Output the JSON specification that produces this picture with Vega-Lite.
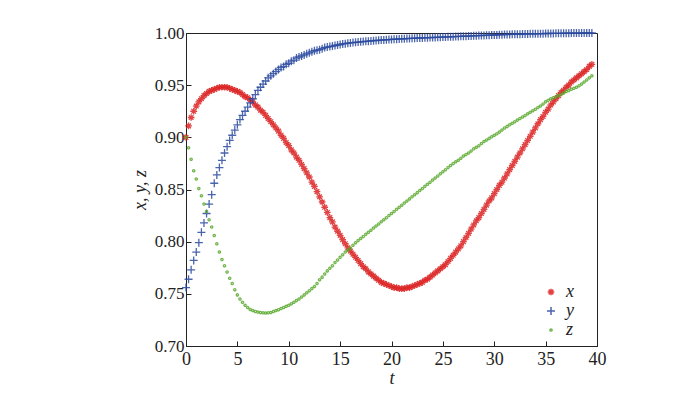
{
"$schema": "https://vega.github.io/schema/vega-lite/v6.json",
"width": 411, "height": 313,
"autosize": {"type": "none"},
"padding": {"left": 186, "top": 33, "right": 76, "bottom": 47},
"background": "white",
"config": {"view": {"stroke": "#222", "strokeWidth": 1}, "font": "Liberation Serif, serif"},
"data": {"values": [
{"s":"x","t":0,"v":0.900},{"s":"x","t":0.25,"v":0.911},{"s":"x","t":0.5,"v":0.919},{"s":"x","t":0.75,"v":0.925},{"s":"x","t":1,"v":0.930},{"s":"x","t":1.25,"v":0.934},{"s":"x","t":1.5,"v":0.937},{"s":"x","t":1.75,"v":0.940},{"s":"x","t":2,"v":0.942},{"s":"x","t":2.25,"v":0.944},{"s":"x","t":2.5,"v":0.945},{"s":"x","t":2.75,"v":0.946},{"s":"x","t":3,"v":0.947},{"s":"x","t":3.25,"v":0.948},{"s":"x","t":3.5,"v":0.948},{"s":"x","t":3.75,"v":0.948},{"s":"x","t":4,"v":0.948},{"s":"x","t":4.25,"v":0.947},{"s":"x","t":4.5,"v":0.946},{"s":"x","t":4.75,"v":0.945},{"s":"x","t":5,"v":0.944},{"s":"x","t":5.25,"v":0.943},{"s":"x","t":5.5,"v":0.941},{"s":"x","t":5.75,"v":0.939},{"s":"x","t":6,"v":0.938},{"s":"x","t":6.25,"v":0.936},{"s":"x","t":6.5,"v":0.934},{"s":"x","t":6.75,"v":0.931},{"s":"x","t":7,"v":0.929},{"s":"x","t":7.25,"v":0.926},{"s":"x","t":7.5,"v":0.924},{"s":"x","t":7.75,"v":0.921},{"s":"x","t":8,"v":0.918},{"s":"x","t":8.25,"v":0.915},{"s":"x","t":8.5,"v":0.912},{"s":"x","t":8.75,"v":0.909},{"s":"x","t":9,"v":0.906},{"s":"x","t":9.25,"v":0.902},{"s":"x","t":9.5,"v":0.899},{"s":"x","t":9.75,"v":0.895},{"s":"x","t":10,"v":0.892},{"s":"x","t":10.25,"v":0.888},{"s":"x","t":10.5,"v":0.885},{"s":"x","t":10.75,"v":0.881},{"s":"x","t":11,"v":0.878},{"s":"x","t":11.25,"v":0.874},{"s":"x","t":11.5,"v":0.870},{"s":"x","t":11.75,"v":0.866},{"s":"x","t":12,"v":0.862},{"s":"x","t":12.25,"v":0.857},{"s":"x","t":12.5,"v":0.853},{"s":"x","t":12.75,"v":0.848},{"s":"x","t":13,"v":0.843},{"s":"x","t":13.25,"v":0.838},{"s":"x","t":13.5,"v":0.833},{"s":"x","t":13.75,"v":0.828},{"s":"x","t":14,"v":0.823},{"s":"x","t":14.25,"v":0.819},{"s":"x","t":14.5,"v":0.814},{"s":"x","t":14.75,"v":0.810},{"s":"x","t":15,"v":0.806},{"s":"x","t":15.25,"v":0.802},{"s":"x","t":15.5,"v":0.798},{"s":"x","t":15.75,"v":0.794},{"s":"x","t":16,"v":0.791},{"s":"x","t":16.25,"v":0.788},{"s":"x","t":16.5,"v":0.785},{"s":"x","t":16.75,"v":0.782},{"s":"x","t":17,"v":0.779},{"s":"x","t":17.25,"v":0.776},{"s":"x","t":17.5,"v":0.774},{"s":"x","t":17.75,"v":0.771},{"s":"x","t":18,"v":0.769},{"s":"x","t":18.25,"v":0.767},{"s":"x","t":18.5,"v":0.765},{"s":"x","t":18.75,"v":0.763},{"s":"x","t":19,"v":0.761},{"s":"x","t":19.25,"v":0.760},{"s":"x","t":19.5,"v":0.759},{"s":"x","t":19.75,"v":0.758},{"s":"x","t":20,"v":0.757},{"s":"x","t":20.25,"v":0.756},{"s":"x","t":20.5,"v":0.756},{"s":"x","t":20.75,"v":0.755},{"s":"x","t":21,"v":0.755},{"s":"x","t":21.25,"v":0.755},{"s":"x","t":21.5,"v":0.756},{"s":"x","t":21.75,"v":0.756},{"s":"x","t":22,"v":0.757},{"s":"x","t":22.25,"v":0.758},{"s":"x","t":22.5,"v":0.759},{"s":"x","t":22.75,"v":0.760},{"s":"x","t":23,"v":0.761},{"s":"x","t":23.25,"v":0.763},{"s":"x","t":23.5,"v":0.764},{"s":"x","t":23.75,"v":0.766},{"s":"x","t":24,"v":0.768},{"s":"x","t":24.25,"v":0.770},{"s":"x","t":24.5,"v":0.772},{"s":"x","t":24.75,"v":0.774},{"s":"x","t":25,"v":0.776},{"s":"x","t":25.25,"v":0.778},{"s":"x","t":25.5,"v":0.781},{"s":"x","t":25.75,"v":0.784},{"s":"x","t":26,"v":0.787},{"s":"x","t":26.25,"v":0.790},{"s":"x","t":26.5,"v":0.793},{"s":"x","t":26.75,"v":0.796},{"s":"x","t":27,"v":0.800},{"s":"x","t":27.25,"v":0.804},{"s":"x","t":27.5,"v":0.808},{"s":"x","t":27.75,"v":0.812},{"s":"x","t":28,"v":0.816},{"s":"x","t":28.25,"v":0.820},{"s":"x","t":28.5,"v":0.823},{"s":"x","t":28.75,"v":0.827},{"s":"x","t":29,"v":0.831},{"s":"x","t":29.25,"v":0.835},{"s":"x","t":29.5,"v":0.839},{"s":"x","t":29.75,"v":0.842},{"s":"x","t":30,"v":0.846},{"s":"x","t":30.25,"v":0.850},{"s":"x","t":30.5,"v":0.854},{"s":"x","t":30.75,"v":0.857},{"s":"x","t":31,"v":0.861},{"s":"x","t":31.25,"v":0.865},{"s":"x","t":31.5,"v":0.869},{"s":"x","t":31.75,"v":0.873},{"s":"x","t":32,"v":0.877},{"s":"x","t":32.25,"v":0.881},{"s":"x","t":32.5,"v":0.885},{"s":"x","t":32.75,"v":0.889},{"s":"x","t":33,"v":0.893},{"s":"x","t":33.25,"v":0.897},{"s":"x","t":33.5,"v":0.901},{"s":"x","t":33.75,"v":0.905},{"s":"x","t":34,"v":0.909},{"s":"x","t":34.25,"v":0.913},{"s":"x","t":34.5,"v":0.917},{"s":"x","t":34.75,"v":0.920},{"s":"x","t":35,"v":0.924},{"s":"x","t":35.25,"v":0.927},{"s":"x","t":35.5,"v":0.931},{"s":"x","t":35.75,"v":0.934},{"s":"x","t":36,"v":0.937},{"s":"x","t":36.25,"v":0.940},{"s":"x","t":36.5,"v":0.943},{"s":"x","t":36.75,"v":0.945},{"s":"x","t":37,"v":0.948},{"s":"x","t":37.25,"v":0.950},{"s":"x","t":37.5,"v":0.953},{"s":"x","t":37.75,"v":0.955},{"s":"x","t":38,"v":0.957},{"s":"x","t":38.25,"v":0.959},{"s":"x","t":38.5,"v":0.961},{"s":"x","t":38.75,"v":0.963},{"s":"x","t":39,"v":0.965},{"s":"x","t":39.25,"v":0.968},{"s":"x","t":39.5,"v":0.970},
{"s":"y","t":0,"v":0.756},{"s":"y","t":0.25,"v":0.764},{"s":"y","t":0.5,"v":0.773},{"s":"y","t":0.75,"v":0.782},{"s":"y","t":1,"v":0.790},{"s":"y","t":1.25,"v":0.799},{"s":"y","t":1.5,"v":0.809},{"s":"y","t":1.75,"v":0.818},{"s":"y","t":2,"v":0.827},{"s":"y","t":2.25,"v":0.836},{"s":"y","t":2.5,"v":0.845},{"s":"y","t":2.75,"v":0.856},{"s":"y","t":3,"v":0.864},{"s":"y","t":3.25,"v":0.871},{"s":"y","t":3.5,"v":0.878},{"s":"y","t":3.75,"v":0.885},{"s":"y","t":4,"v":0.891},{"s":"y","t":4.25,"v":0.897},{"s":"y","t":4.5,"v":0.902},{"s":"y","t":4.75,"v":0.907},{"s":"y","t":5,"v":0.912},{"s":"y","t":5.25,"v":0.917},{"s":"y","t":5.5,"v":0.921},{"s":"y","t":5.75,"v":0.925},{"s":"y","t":6,"v":0.929},{"s":"y","t":6.25,"v":0.933},{"s":"y","t":6.5,"v":0.937},{"s":"y","t":6.75,"v":0.941},{"s":"y","t":7,"v":0.945},{"s":"y","t":7.25,"v":0.948},{"s":"y","t":7.5,"v":0.951},{"s":"y","t":7.75,"v":0.954},{"s":"y","t":8,"v":0.957},{"s":"y","t":8.25,"v":0.959},{"s":"y","t":8.5,"v":0.961},{"s":"y","t":8.75,"v":0.963},{"s":"y","t":9,"v":0.965},{"s":"y","t":9.25,"v":0.967},{"s":"y","t":9.5,"v":0.968},{"s":"y","t":9.75,"v":0.970},{"s":"y","t":10,"v":0.971},{"s":"y","t":10.25,"v":0.973},{"s":"y","t":10.5,"v":0.974},{"s":"y","t":10.75,"v":0.976},{"s":"y","t":11,"v":0.977},{"s":"y","t":11.25,"v":0.978},{"s":"y","t":11.5,"v":0.979},{"s":"y","t":11.75,"v":0.980},{"s":"y","t":12,"v":0.981},{"s":"y","t":12.25,"v":0.982},{"s":"y","t":12.5,"v":0.983},{"s":"y","t":12.75,"v":0.9835},{"s":"y","t":13,"v":0.984},{"s":"y","t":13.25,"v":0.985},{"s":"y","t":13.5,"v":0.986},{"s":"y","t":13.75,"v":0.9865},{"s":"y","t":14,"v":0.987},{"s":"y","t":14.25,"v":0.9875},{"s":"y","t":14.5,"v":0.988},{"s":"y","t":14.75,"v":0.9885},{"s":"y","t":15,"v":0.989},{"s":"y","t":15.25,"v":0.9895},{"s":"y","t":15.5,"v":0.9898},{"s":"y","t":15.75,"v":0.9902},{"s":"y","t":16,"v":0.9905},{"s":"y","t":16.25,"v":0.9908},{"s":"y","t":16.5,"v":0.9911},{"s":"y","t":16.75,"v":0.9913},{"s":"y","t":17,"v":0.9915},{"s":"y","t":17.25,"v":0.9918},{"s":"y","t":17.5,"v":0.9920},{"s":"y","t":17.75,"v":0.9922},{"s":"y","t":18,"v":0.9924},{"s":"y","t":18.25,"v":0.9926},{"s":"y","t":18.5,"v":0.9928},{"s":"y","t":18.75,"v":0.9930},{"s":"y","t":19,"v":0.9932},{"s":"y","t":19.25,"v":0.9934},{"s":"y","t":19.5,"v":0.9935},{"s":"y","t":19.75,"v":0.9937},{"s":"y","t":20,"v":0.9938},{"s":"y","t":20.25,"v":0.9940},{"s":"y","t":20.5,"v":0.9941},{"s":"y","t":20.75,"v":0.9943},{"s":"y","t":21,"v":0.9944},{"s":"y","t":21.25,"v":0.9945},{"s":"y","t":21.5,"v":0.9947},{"s":"y","t":21.75,"v":0.9948},{"s":"y","t":22,"v":0.9949},{"s":"y","t":22.25,"v":0.9950},{"s":"y","t":22.5,"v":0.9951},{"s":"y","t":22.75,"v":0.9952},{"s":"y","t":23,"v":0.9953},{"s":"y","t":23.25,"v":0.9954},{"s":"y","t":23.5,"v":0.9955},{"s":"y","t":23.75,"v":0.9956},{"s":"y","t":24,"v":0.9957},{"s":"y","t":24.25,"v":0.9958},{"s":"y","t":24.5,"v":0.9959},{"s":"y","t":24.75,"v":0.9960},{"s":"y","t":25,"v":0.9961},{"s":"y","t":25.25,"v":0.9962},{"s":"y","t":25.5,"v":0.9963},{"s":"y","t":25.75,"v":0.9964},{"s":"y","t":26,"v":0.9965},{"s":"y","t":26.25,"v":0.9966},{"s":"y","t":26.5,"v":0.9967},{"s":"y","t":26.75,"v":0.9968},{"s":"y","t":27,"v":0.9969},{"s":"y","t":27.25,"v":0.9970},{"s":"y","t":27.5,"v":0.9971},{"s":"y","t":27.75,"v":0.9972},{"s":"y","t":28,"v":0.9973},{"s":"y","t":28.25,"v":0.9974},{"s":"y","t":28.5,"v":0.9975},{"s":"y","t":28.75,"v":0.9976},{"s":"y","t":29,"v":0.9977},{"s":"y","t":29.25,"v":0.9978},{"s":"y","t":29.5,"v":0.9979},{"s":"y","t":29.75,"v":0.9980},{"s":"y","t":30,"v":0.9981},{"s":"y","t":30.25,"v":0.9982},{"s":"y","t":30.5,"v":0.9983},{"s":"y","t":30.75,"v":0.9984},{"s":"y","t":31,"v":0.9985},{"s":"y","t":31.25,"v":0.9985},{"s":"y","t":31.5,"v":0.9986},{"s":"y","t":31.75,"v":0.9987},{"s":"y","t":32,"v":0.9988},{"s":"y","t":32.25,"v":0.9988},{"s":"y","t":32.5,"v":0.9989},{"s":"y","t":32.75,"v":0.9990},{"s":"y","t":33,"v":0.9990},{"s":"y","t":33.25,"v":0.9991},{"s":"y","t":33.5,"v":0.9992},{"s":"y","t":33.75,"v":0.9992},{"s":"y","t":34,"v":0.9993},{"s":"y","t":34.25,"v":0.9993},{"s":"y","t":34.5,"v":0.9994},{"s":"y","t":34.75,"v":0.9994},{"s":"y","t":35,"v":0.9995},{"s":"y","t":35.25,"v":0.9995},{"s":"y","t":35.5,"v":0.9996},{"s":"y","t":35.75,"v":0.9996},{"s":"y","t":36,"v":0.9997},{"s":"y","t":36.25,"v":0.9997},{"s":"y","t":36.5,"v":0.9997},{"s":"y","t":36.75,"v":0.9998},{"s":"y","t":37,"v":0.9998},{"s":"y","t":37.25,"v":0.9998},{"s":"y","t":37.5,"v":0.9999},{"s":"y","t":37.75,"v":0.9999},{"s":"y","t":38,"v":0.9999},{"s":"y","t":38.25,"v":0.9999},{"s":"y","t":38.5,"v":1.0},{"s":"y","t":38.75,"v":1.0},{"s":"y","t":39,"v":1.0},{"s":"y","t":39.25,"v":1.0},{"s":"y","t":39.5,"v":1.0},
{"s":"z","t":0,"v":0.900},{"s":"z","t":0.25,"v":0.890},{"s":"z","t":0.5,"v":0.879},{"s":"z","t":0.75,"v":0.868},{"s":"z","t":1,"v":0.860},{"s":"z","t":1.25,"v":0.851},{"s":"z","t":1.5,"v":0.844},{"s":"z","t":1.75,"v":0.836},{"s":"z","t":2,"v":0.829},{"s":"z","t":2.25,"v":0.821},{"s":"z","t":2.5,"v":0.814},{"s":"z","t":2.75,"v":0.806},{"s":"z","t":3,"v":0.798},{"s":"z","t":3.25,"v":0.790},{"s":"z","t":3.5,"v":0.783},{"s":"z","t":3.75,"v":0.777},{"s":"z","t":4,"v":0.771},{"s":"z","t":4.25,"v":0.765},{"s":"z","t":4.5,"v":0.760},{"s":"z","t":4.75,"v":0.754},{"s":"z","t":5,"v":0.749},{"s":"z","t":5.25,"v":0.745},{"s":"z","t":5.5,"v":0.742},{"s":"z","t":5.75,"v":0.739},{"s":"z","t":6,"v":0.737},{"s":"z","t":6.25,"v":0.735},{"s":"z","t":6.5,"v":0.734},{"s":"z","t":6.75,"v":0.733},{"s":"z","t":7,"v":0.7325},{"s":"z","t":7.25,"v":0.732},{"s":"z","t":7.5,"v":0.7318},{"s":"z","t":7.75,"v":0.7316},{"s":"z","t":8,"v":0.7318},{"s":"z","t":8.25,"v":0.7322},{"s":"z","t":8.5,"v":0.733},{"s":"z","t":8.75,"v":0.734},{"s":"z","t":9,"v":0.7348},{"s":"z","t":9.25,"v":0.736},{"s":"z","t":9.5,"v":0.737},{"s":"z","t":9.75,"v":0.738},{"s":"z","t":10,"v":0.739},{"s":"z","t":10.25,"v":0.7405},{"s":"z","t":10.5,"v":0.742},{"s":"z","t":10.75,"v":0.7435},{"s":"z","t":11,"v":0.745},{"s":"z","t":11.25,"v":0.747},{"s":"z","t":11.5,"v":0.749},{"s":"z","t":11.75,"v":0.751},{"s":"z","t":12,"v":0.753},{"s":"z","t":12.25,"v":0.755},{"s":"z","t":12.5,"v":0.757},{"s":"z","t":12.75,"v":0.760},{"s":"z","t":13,"v":0.7635},{"s":"z","t":13.25,"v":0.766},{"s":"z","t":13.5,"v":0.769},{"s":"z","t":13.75,"v":0.772},{"s":"z","t":14,"v":0.7745},{"s":"z","t":14.25,"v":0.777},{"s":"z","t":14.5,"v":0.780},{"s":"z","t":14.75,"v":0.7825},{"s":"z","t":15,"v":0.785},{"s":"z","t":15.25,"v":0.7875},{"s":"z","t":15.5,"v":0.790},{"s":"z","t":15.75,"v":0.792},{"s":"z","t":16,"v":0.794},{"s":"z","t":16.25,"v":0.7965},{"s":"z","t":16.5,"v":0.799},{"s":"z","t":16.75,"v":0.801},{"s":"z","t":17,"v":0.803},{"s":"z","t":17.25,"v":0.805},{"s":"z","t":17.5,"v":0.807},{"s":"z","t":17.75,"v":0.809},{"s":"z","t":18,"v":0.811},{"s":"z","t":18.25,"v":0.813},{"s":"z","t":18.5,"v":0.815},{"s":"z","t":18.75,"v":0.817},{"s":"z","t":19,"v":0.819},{"s":"z","t":19.25,"v":0.821},{"s":"z","t":19.5,"v":0.823},{"s":"z","t":19.75,"v":0.825},{"s":"z","t":20,"v":0.827},{"s":"z","t":20.25,"v":0.829},{"s":"z","t":20.5,"v":0.831},{"s":"z","t":20.75,"v":0.833},{"s":"z","t":21,"v":0.835},{"s":"z","t":21.25,"v":0.837},{"s":"z","t":21.5,"v":0.839},{"s":"z","t":21.75,"v":0.841},{"s":"z","t":22,"v":0.843},{"s":"z","t":22.25,"v":0.845},{"s":"z","t":22.5,"v":0.847},{"s":"z","t":22.75,"v":0.849},{"s":"z","t":23,"v":0.851},{"s":"z","t":23.25,"v":0.853},{"s":"z","t":23.5,"v":0.855},{"s":"z","t":23.75,"v":0.857},{"s":"z","t":24,"v":0.859},{"s":"z","t":24.25,"v":0.861},{"s":"z","t":24.5,"v":0.863},{"s":"z","t":24.75,"v":0.865},{"s":"z","t":25,"v":0.867},{"s":"z","t":25.25,"v":0.869},{"s":"z","t":25.5,"v":0.871},{"s":"z","t":25.75,"v":0.873},{"s":"z","t":26,"v":0.875},{"s":"z","t":26.25,"v":0.8765},{"s":"z","t":26.5,"v":0.878},{"s":"z","t":26.75,"v":0.880},{"s":"z","t":27,"v":0.882},{"s":"z","t":27.25,"v":0.8835},{"s":"z","t":27.5,"v":0.885},{"s":"z","t":27.75,"v":0.887},{"s":"z","t":28,"v":0.889},{"s":"z","t":28.25,"v":0.8905},{"s":"z","t":28.5,"v":0.892},{"s":"z","t":28.75,"v":0.894},{"s":"z","t":29,"v":0.896},{"s":"z","t":29.25,"v":0.8975},{"s":"z","t":29.5,"v":0.899},{"s":"z","t":29.75,"v":0.9005},{"s":"z","t":30,"v":0.902},{"s":"z","t":30.25,"v":0.9035},{"s":"z","t":30.5,"v":0.905},{"s":"z","t":30.75,"v":0.907},{"s":"z","t":31,"v":0.909},{"s":"z","t":31.25,"v":0.9105},{"s":"z","t":31.5,"v":0.912},{"s":"z","t":31.75,"v":0.9135},{"s":"z","t":32,"v":0.915},{"s":"z","t":32.25,"v":0.9165},{"s":"z","t":32.5,"v":0.918},{"s":"z","t":32.75,"v":0.9195},{"s":"z","t":33,"v":0.921},{"s":"z","t":33.25,"v":0.9225},{"s":"z","t":33.5,"v":0.924},{"s":"z","t":33.75,"v":0.9255},{"s":"z","t":34,"v":0.927},{"s":"z","t":34.25,"v":0.9285},{"s":"z","t":34.5,"v":0.930},{"s":"z","t":34.75,"v":0.932},{"s":"z","t":35,"v":0.934},{"s":"z","t":35.25,"v":0.9355},{"s":"z","t":35.5,"v":0.937},{"s":"z","t":35.75,"v":0.938},{"s":"z","t":36,"v":0.939},{"s":"z","t":36.25,"v":0.940},{"s":"z","t":36.5,"v":0.941},{"s":"z","t":36.75,"v":0.9425},{"s":"z","t":37,"v":0.944},{"s":"z","t":37.25,"v":0.945},{"s":"z","t":37.5,"v":0.946},{"s":"z","t":37.75,"v":0.947},{"s":"z","t":38,"v":0.948},{"s":"z","t":38.25,"v":0.9495},{"s":"z","t":38.5,"v":0.951},{"s":"z","t":38.75,"v":0.953},{"s":"z","t":39,"v":0.955},{"s":"z","t":39.25,"v":0.957},{"s":"z","t":39.5,"v":0.959}
]},
"mark": {"type": "point", "filled": false, "strokeWidth": 1.3, "opacity": 0.85},
"encoding": {
  "x": {"field": "t", "type": "quantitative",
    "scale": {"domain": [0, 40], "nice": false, "zero": false},
    "axis": {"title": "t", "values": [0,5,10,15,20,25,30,35,40], "grid": false, "labelFlush": false,
      "tickSize": -5, "tickColor": "#222", "domainColor": "#222",
      "labelFont": "Liberation Serif, serif", "labelFontSize": 18, "labelColor": "#222", "labelPadding": 9,
      "titleFont": "Liberation Serif, serif", "titleFontSize": 18, "titleFontStyle": "italic", "titleFontWeight": "normal", "titleColor": "#222", "titlePadding": 1}},
  "y": {"field": "v", "type": "quantitative",
    "scale": {"domain": [0.7, 1.0], "nice": false, "zero": false},
    "axis": {"title": "x, y, z", "values": [0.7,0.75,0.8,0.85,0.9,0.95,1.0], "format": ".2f", "grid": false, "labelFlush": false,
      "tickSize": -5, "tickColor": "#222", "domainColor": "#222",
      "labelFont": "Liberation Serif, serif", "labelFontSize": 17, "labelColor": "#222", "labelPadding": 7,
      "titleFont": "Liberation Serif, serif", "titleFontSize": 18, "titleFontStyle": "italic", "titleFontWeight": "normal", "titleColor": "#222", "titlePadding": 5}},
  "color": {"field": "s", "type": "nominal",
    "scale": {"domain": ["x","y","z"], "range": ["#dc2424","#2b4aa0","#5aaa2e"]},
    "legend": {"title": null, "orient": "none", "legendX": 356, "legendY": 250,
      "labelFont": "Liberation Serif, serif", "labelFontSize": 18, "labelFontStyle": "italic", "labelColor": "#222",
      "rowPadding": 1, "labelOffset": 6, "symbolStrokeWidth": 1.5}},
  "shape": {"field": "s", "type": "nominal",
    "scale": {"domain": ["x","y","z"], "range": ["M-1,0L1,0M0,-1L0,1M-0.7,-0.7L0.7,0.7M-0.7,0.7L0.7,-0.7", "M-1,0L1,0M0,-1L0,1", "circle"]}},
  "size": {"field": "s", "type": "nominal",
    "scale": {"type": "ordinal", "domain": ["x","y","z"], "range": [45, 64, 5]}}
}
}
